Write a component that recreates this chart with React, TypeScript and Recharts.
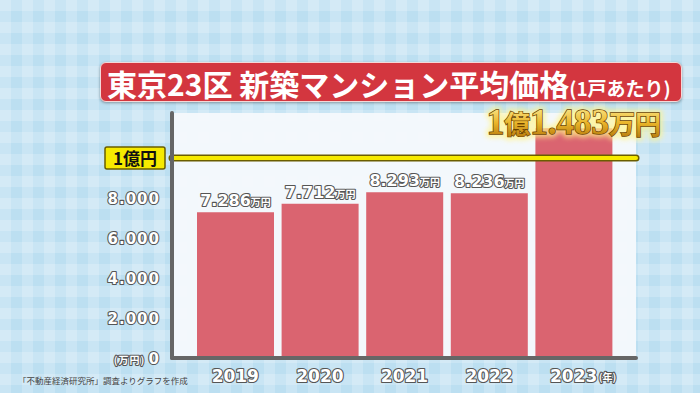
import { Bar, BarChart, CartesianGrid, LabelList, ReferenceLine, XAxis, YAxis } from 'recharts';

const years = ['2019', '2020', '2021', '2022', '2023'];
const prices = [7286, 7712, 8293, 8236, 11483];
const yTicks = [0, 2000, 4000, 6000, 8000];
const okuLine = 10000;

const chartData = years.map((year, i) => ({ year, price: prices[i] }));

const NUM_FONT = "'DejaVu Sans', 'Noto Sans CJK JP', sans-serif";
const JP_FONT = "'Noto Sans CJK JP', sans-serif";

// 7286 -> "7.286"
const fmt = (v: number) => String(v).replace(/\B(?=(\d{3})+(?!\d))/g, '.');

const outline = {
  fill: '#fff',
  stroke: '#555',
  strokeWidth: 2.2,
  paintOrder: 'stroke' as const,
  strokeLinejoin: 'round' as const,
};

function YTick({ x, y, payload }: any) {
  const v = payload.value as number;
  return (
    <text x={x - 4} y={y + 6} textAnchor="end" fontFamily={NUM_FONT} fontWeight="bold" letterSpacing={1} {...outline}>
      {v === 0 && (
        <tspan fontSize={10} fontFamily={JP_FONT}>
          (万円){' '}
        </tspan>
      )}
      <tspan fontSize={15}>{fmt(v)}</tspan>
    </text>
  );
}

function XTick({ x, y, payload }: any) {
  const last = payload.value === years[years.length - 1];
  return (
    <g>
      <text x={x} y={y + 16} textAnchor="middle" fontFamily={NUM_FONT} fontWeight="bold" fontSize={17} {...outline}>
        {payload.value}
      </text>
      {last && (
        <text x={x + 25} y={y + 15} fontFamily={JP_FONT} fontWeight="bold" fontSize={10} {...outline}>
          (年)
        </text>
      )}
    </g>
  );
}

function PriceLabel({ x, y, width, value, index }: any) {
  const cx = x + width / 2;
  if (index === prices.length - 1) {
    const oku = Math.floor(value / 10000);
    const man = fmt(value % 10000);
    const parts = (
      <>
        <tspan fontSize={35}>{oku}</tspan>
        <tspan fontSize={26} fontFamily={JP_FONT}>億</tspan>
        <tspan fontSize={35}>{man}</tspan>
        <tspan fontSize={26} fontFamily={JP_FONT}>万円</tspan>
      </>
    );
    return (
      <g>
        <text x={cx} y={y + 6} textAnchor="middle" fontFamily="'Liberation Serif', serif" fontWeight="bold"
          fill="#fff7a8" stroke="#fff38a" strokeWidth={7} strokeLinejoin="round" filter="url(#glow)" opacity={0.75}>
          {parts}
        </text>
        <text x={cx} y={y + 6} textAnchor="middle" fontFamily="'Liberation Serif', serif" fontWeight="bold"
          fill="url(#gold)" stroke="#6b4200" strokeWidth={1.4} paintOrder="stroke">
          {parts}
        </text>
      </g>
    );
  }
  return (
    <text x={cx} y={y - 6} textAnchor="middle" fontFamily={NUM_FONT} fontWeight="bold" {...outline}>
      <tspan fontSize={16}>{fmt(value)}</tspan>
      <tspan fontSize={10} fontFamily={JP_FONT}>万円</tspan>
    </text>
  );
}

function OkuLabel({ viewBox }: any) {
  const y = viewBox.y;
  return (
    <g>
      <rect x={105} y={y - 11} width={60} height={22} fill="#f6ea00" stroke="#6a5d00" strokeWidth={1.5} rx={2} />
      <text x={135} y={y + 7} textAnchor="middle" fontFamily={JP_FONT} fontWeight="bold" fontSize={17} fill="#111">
        1億円
      </text>
    </g>
  );
}

export default function App() {
  return (
    <div
      style={{
        position: 'absolute',
        left: 0,
        top: 0,
        width: 700,
        height: 393,
        overflow: 'hidden',
        backgroundColor: '#bcdff1',
        backgroundImage:
          'linear-gradient(90deg, rgba(255,255,255,0.2) 50%, transparent 50%), linear-gradient(rgba(255,255,255,0.2) 50%, transparent 50%)',
        backgroundSize: '22px 22px',
      }}
    >
      <div
        style={{
          position: 'absolute',
          left: 100,
          top: 62,
          width: 582,
          height: 40,
          background: '#d3363f',
          border: '1.5px solid #f4d8d8',
          borderRadius: 6,
          boxShadow: '0 1px 3px rgba(0,0,0,0.35)',
          color: '#fff',
          fontFamily: JP_FONT,
          fontWeight: 'bold',
          whiteSpace: 'nowrap',
          lineHeight: '40px',
          paddingLeft: 6,
          boxSizing: 'border-box',
        }}
      >
        <span style={{ fontSize: 30 }}>東京23区 新築マンション平均価格</span>
        <span style={{ fontSize: 19 }}>(1戸あたり)</span>
      </div>

      <div style={{ position: 'absolute', left: 0, top: 0 }}>
        <BarChart width={700} height={393} data={chartData} margin={{ top: 113, right: 64, bottom: 5, left: 102 }}>
          <defs>
            <linearGradient id="gold" x1="0" y1="0" x2="0" y2="1">
              <stop offset="0%" stopColor="#fff3a0" />
              <stop offset="50%" stopColor="#eab52a" />
              <stop offset="100%" stopColor="#a86a05" />
            </linearGradient>
            <filter id="glow" x="-20%" y="-50%" width="140%" height="200%">
              <feGaussianBlur stdDeviation="2.5" />
            </filter>
          </defs>
          <CartesianGrid horizontal={false} vertical={false} fill="#f6f9fc" fillOpacity={0.95} />
          <XAxis
            dataKey="year"
            height={30}
            padding={{ left: 21, right: 20 }}
            axisLine={{ stroke: '#666', strokeWidth: 4, strokeLinecap: 'round' }}
            tickLine={false}
            tick={<XTick />}
            interval={0}
          />
          <YAxis
            width={70}
            domain={[0, 12250]}
            ticks={yTicks}
            axisLine={{ stroke: '#666', strokeWidth: 4, strokeLinecap: 'round' }}
            tickLine={false}
            tick={<YTick />}
            interval={0}
          />
          <Bar dataKey="price" fill="#da6470" barSize={77} isAnimationActive={false}>
            <LabelList dataKey="price" content={<PriceLabel />} />
          </Bar>
          <ReferenceLine y={okuLine} stroke="#6a5d00" strokeWidth={7} strokeLinecap="round" />
          <ReferenceLine y={okuLine} stroke="#f6ea00" strokeWidth={4} strokeLinecap="round" label={<OkuLabel />} />
        </BarChart>
      </div>

      <div
        style={{
          position: 'absolute',
          left: 18,
          top: 374,
          fontFamily: JP_FONT,
          fontSize: 8.5,
          color: '#444',
          whiteSpace: 'nowrap',
        }}
      >
        「不動産経済研究所」調査よりグラフを作成
      </div>
    </div>
  );
}
